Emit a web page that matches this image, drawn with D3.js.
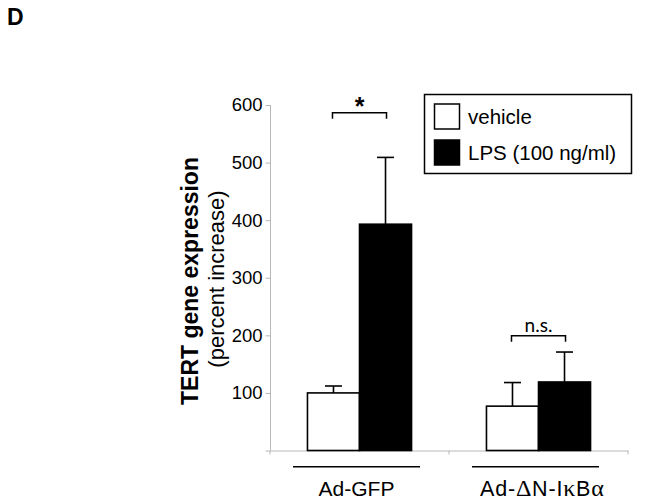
<!DOCTYPE html>
<html>
<head>
<meta charset="utf-8">
<script src="https://cdn.jsdelivr.net/npm/d3@7"></script>
<style>
  html, body { margin: 0; padding: 0; background: #fff; }
  svg { display: block; }
</style>
</head>
<body>
<svg id="chart" width="645" height="502"></svg>
<script>
// ---- data ----
const categories = ["Ad-GFP", "Ad-\u0394N-I\u03baB\u03b1"];
const seriesNames = ["vehicle", "LPS (100 ng/ml)"];
const vehicleValues = [100, 77];
const lpsValues = [393, 119];
const vehicleErrors = [12, 41];
const lpsErrors = [116, 52];
const yTicks = [0, 100, 200, 300, 400, 500, 600];
const significance = ["*", "n.s."];
const panelLabel = "D";
const yTitleMain = "TERT gene expression";
const yTitleSub = "(percent increase)";

const seriesValues = [vehicleValues, lpsValues];
const seriesErrors = [vehicleErrors, lpsErrors];
const seriesFill = ["#ffffff", "#000000"];

const svg = d3.select("#chart");
const font = "'Liberation Sans', Arial, Helvetica, sans-serif";
const greekFont = "'Liberation Serif', 'DejaVu Serif', serif";

const x0 = d3.scaleBand().domain(categories).range([270, 628]).padding(0);
const x1 = d3.scaleBand().domain(seriesNames).range([0, x0.bandwidth()])
  .paddingInner(0).paddingOuter(0.72);
const y = d3.scaleLinear().domain([0, 600]).range([450.5, 105]);

// panel label
svg.append("text").attr("x", 7).attr("y", 24.5)
  .attr("font-family", font).attr("font-weight", "bold").attr("font-size", 23)
  .text(panelLabel);

// y axis
const yAxis = svg.append("g").attr("transform", "translate(270.5,0)")
  .call(d3.axisLeft(y).tickValues(yTicks).tickSize(5).tickPadding(3)
    .tickFormat(d => d === 0 ? "" : d));
yAxis.select(".domain").attr("stroke", "#b8b8b8").attr("d", `M0,${y(0)}V${y(600)}`);
yAxis.selectAll(".tick line").attr("stroke", "#b8b8b8");
yAxis.selectAll(".tick text").attr("font-family", font).attr("font-size", 18.5)
  .attr("fill", "#000");

// x axis
const xAxis = svg.append("g").attr("transform", `translate(0,${y(0)})`)
  .call(d3.axisBottom(x0).tickSize(0).tickFormat(""));
xAxis.select(".domain").attr("stroke", "#b8b8b8");
const xEdges = categories.map(c => x0(c)).concat([x0.range()[1]]);
svg.append("g").selectAll("line").data(xEdges).join("line")
  .attr("x1", d => d).attr("x2", d => d)
  .attr("y1", y(0)).attr("y2", y(0) + 4)
  .attr("stroke", "#b8b8b8");

// bars
const groups = svg.append("g").selectAll("g").data(categories).join("g")
  .attr("transform", c => `translate(${x0(c)},0)`);

seriesNames.forEach((s, si) => {
  groups.append("rect")
    .attr("x", x1(s))
    .attr("width", x1.bandwidth())
    .attr("y", (c, ci) => y(seriesValues[si][ci]))
    .attr("height", (c, ci) => y(0) - y(seriesValues[si][ci]))
    .attr("fill", seriesFill[si])
    .attr("stroke", "#000").attr("stroke-width", 1.6);
  // error bars (upper only)
  groups.append("line")
    .attr("x1", x1(s) + x1.bandwidth() / 2).attr("x2", x1(s) + x1.bandwidth() / 2)
    .attr("y1", (c, ci) => y(seriesValues[si][ci]))
    .attr("y2", (c, ci) => y(seriesValues[si][ci] + seriesErrors[si][ci]))
    .attr("stroke", "#000").attr("stroke-width", 1.6);
  groups.append("line")
    .attr("x1", x1(s) + x1.bandwidth() / 2 - 8.5).attr("x2", x1(s) + x1.bandwidth() / 2 + 8.5)
    .attr("y1", (c, ci) => y(seriesValues[si][ci] + seriesErrors[si][ci]))
    .attr("y2", (c, ci) => y(seriesValues[si][ci] + seriesErrors[si][ci]))
    .attr("stroke", "#000").attr("stroke-width", 1.6);
});

// significance brackets
const bracketY = [112.7, 335.7];
categories.forEach((c, ci) => {
  const xa = x0(c) + x1(seriesNames[0]) + x1.bandwidth() / 2 - 1;
  const xb = x0(c) + x1(seriesNames[1]) + x1.bandwidth() / 2 + 1;
  const by = bracketY[ci];
  svg.append("path")
    .attr("d", `M${xa},${by + 6}V${by}H${xb}V${by + 6}`)
    .attr("fill", "none").attr("stroke", "#000").attr("stroke-width", 1.5);
  if (ci === 0) {
    svg.append("text").attr("x", (xa + xb) / 2).attr("y", by + 2)
      .attr("text-anchor", "middle").attr("font-family", font)
      .attr("font-weight", "bold").attr("font-size", 25).text(significance[ci]);
  } else {
    svg.append("text").attr("x", (xa + xb) / 2).attr("y", by - 4)
      .attr("text-anchor", "middle").attr("font-family", "Lato, 'Open Sans', sans-serif")
      .attr("font-size", 19).text(significance[ci]);
  }
});

// category lines and labels
categories.forEach(c => {
  const cx = x0(c) + x0.bandwidth() / 2 - 3;
  svg.append("line").attr("x1", cx - 63.5).attr("x2", cx + 63.5)
    .attr("y1", 466.7).attr("y2", 466.7).attr("stroke", "#000").attr("stroke-width", 1.5);
});
// label 1: plain
svg.append("text")
  .attr("x", x0(categories[0]) + x0.bandwidth() / 2 - 3)
  .attr("y", 495.5)
  .attr("text-anchor", "middle").attr("font-family", font).attr("font-size", 21)
  .text(categories[0]);
// label 2: Greek glyphs in a symbol-like face
const lab2 = svg.append("text")
  .attr("x", x0(categories[1]) + 31)
  .attr("y", 495.5)
  .attr("font-family", font).attr("font-size", 21.5)
  .attr("letter-spacing", 0.8);
Array.from(categories[1]).forEach(ch => {
  const isGreek = /[\u0370-\u03ff]/.test(ch);
  lab2.append("tspan")
    .attr("font-family", isGreek ? greekFont : font)
    .attr("font-size", isGreek ? 24 : 21.5)
    .text(ch);
});

// y axis titles
svg.append("text").attr("transform", "translate(197.5,281) rotate(-90)")
  .attr("text-anchor", "middle").attr("font-family", font)
  .attr("font-weight", "bold").attr("font-size", 23).text(yTitleMain);
svg.append("text").attr("transform", "translate(224,279) rotate(-90)")
  .attr("text-anchor", "middle").attr("font-family", font)
  .attr("font-size", 22).text(yTitleSub);

// legend
const legend = svg.append("g");
legend.append("rect").attr("x", 424.5).attr("y", 94.5).attr("width", 207).attr("height", 79)
  .attr("fill", "#fff").attr("stroke", "#000").attr("stroke-width", 1.5);
const legendRows = [116.5, 152.5];
seriesNames.forEach((s, i) => {
  legend.append("rect").attr("x", 434.5).attr("y", legendRows[i] - 12.5)
    .attr("width", 25).attr("height", 25)
    .attr("fill", seriesFill[i]).attr("stroke", "#000").attr("stroke-width", 1.5);
  legend.append("text").attr("x", 468).attr("y", legendRows[i] + 7.5)
    .attr("font-family", font).attr("font-size", 20.5).text(s);
});
</script>
</body>
</html>
